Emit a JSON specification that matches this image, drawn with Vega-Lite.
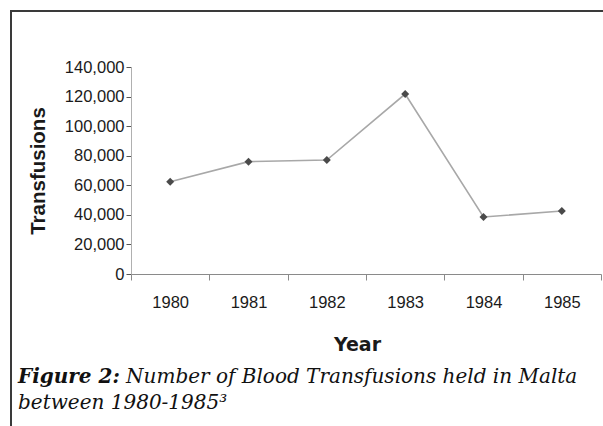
{
  "$schema": "https://vega.github.io/schema/vega-lite/v6.json",
  "width": 600,
  "height": 420,
  "autosize": {"type": "none"},
  "padding": {"left": 11, "top": 11, "right": -8, "bottom": -5},
  "background": "white",
  "config": {
    "view": {"stroke": "#3a3a3a", "strokeWidth": 2},
    "font": "Liberation Sans"
  },
  "title": {
    "text": "Figure 2:",
    "subtitle": ["\u200b\u00a0\u00a0\u00a0\u00a0\u00a0\u00a0\u00a0\u00a0\u00a0\u00a0\u00a0\u00a0\u00a0\u00a0\u00a0\u00a0\u00a0Number of Blood Transfusions held in Malta", "between 1980-1985\u00b3"],
    "orient": "bottom",
    "anchor": "start",
    "frame": "group",
    "offset": -64,
    "dx": 7,
    "font": "DejaVu Serif",
    "fontSize": 20,
    "fontStyle": "italic",
    "fontWeight": "bold",
    "color": "#111111",
    "subtitleFont": "DejaVu Serif",
    "subtitleFontSize": 20,
    "subtitleFontStyle": "italic",
    "subtitleFontWeight": "normal",
    "subtitleColor": "#111111",
    "subtitlePadding": -20,
    "subtitleLineHeight": 26
  },
  "data": {
    "values": [
      {"year": "1980", "transfusions": 62400},
      {"year": "1981", "transfusions": 76000},
      {"year": "1982", "transfusions": 77100},
      {"year": "1983", "transfusions": 121700},
      {"year": "1984", "transfusions": 38550},
      {"year": "1985", "transfusions": 42600}
    ]
  },
  "encoding": {
    "x": {
      "field": "year",
      "type": "ordinal",
      "bandPosition": 0.5,
      "scale": {"type": "band", "range": [120, 590], "paddingInner": 0, "paddingOuter": 0},
      "axis": {
        "title": "Year",
        "offset": -157,
        "tickBand": "extent",
        "labelAngle": 0,
        "domainColor": "#8a8a8a",
        "tickColor": "#8a8a8a",
        "tickSize": 6,
        "labelFontSize": 16.5,
        "labelColor": "#1a1a1a",
        "labelPadding": 14,
        "titleFont": "DejaVu Sans",
        "titleFontSize": 19,
        "titleFontWeight": "bold",
        "titleColor": "#1a1a1a",
        "titlePadding": 25,
        "titleX": 346
      }
    },
    "y": {
      "field": "transfusions",
      "type": "quantitative",
      "scale": {"domain": [0, 140000], "range": [263, 56], "nice": false},
      "axis": {
        "title": "Transfusions",
        "offset": -120,
        "values": [0, 20000, 40000, 60000, 80000, 100000, 120000, 140000],
        "format": ",.0f",
        "grid": false,
        "domainColor": "#b0b0b0",
        "tickColor": "#555555",
        "tickSize": 5,
        "labelFontSize": 16.5,
        "labelColor": "#1a1a1a",
        "labelPadding": 2,
        "titleFontSize": 20.5,
        "titleFontWeight": "bold",
        "titleColor": "#1a1a1a",
        "titlePadding": 16
      }
    }
  },
  "layer": [
    {"mark": {"type": "line", "color": "#a8a8a8", "strokeWidth": 1.6}},
    {"mark": {"type": "point", "shape": "diamond", "filled": true, "color": "#4a4a4a", "size": 64, "opacity": 1}}
  ]
}
